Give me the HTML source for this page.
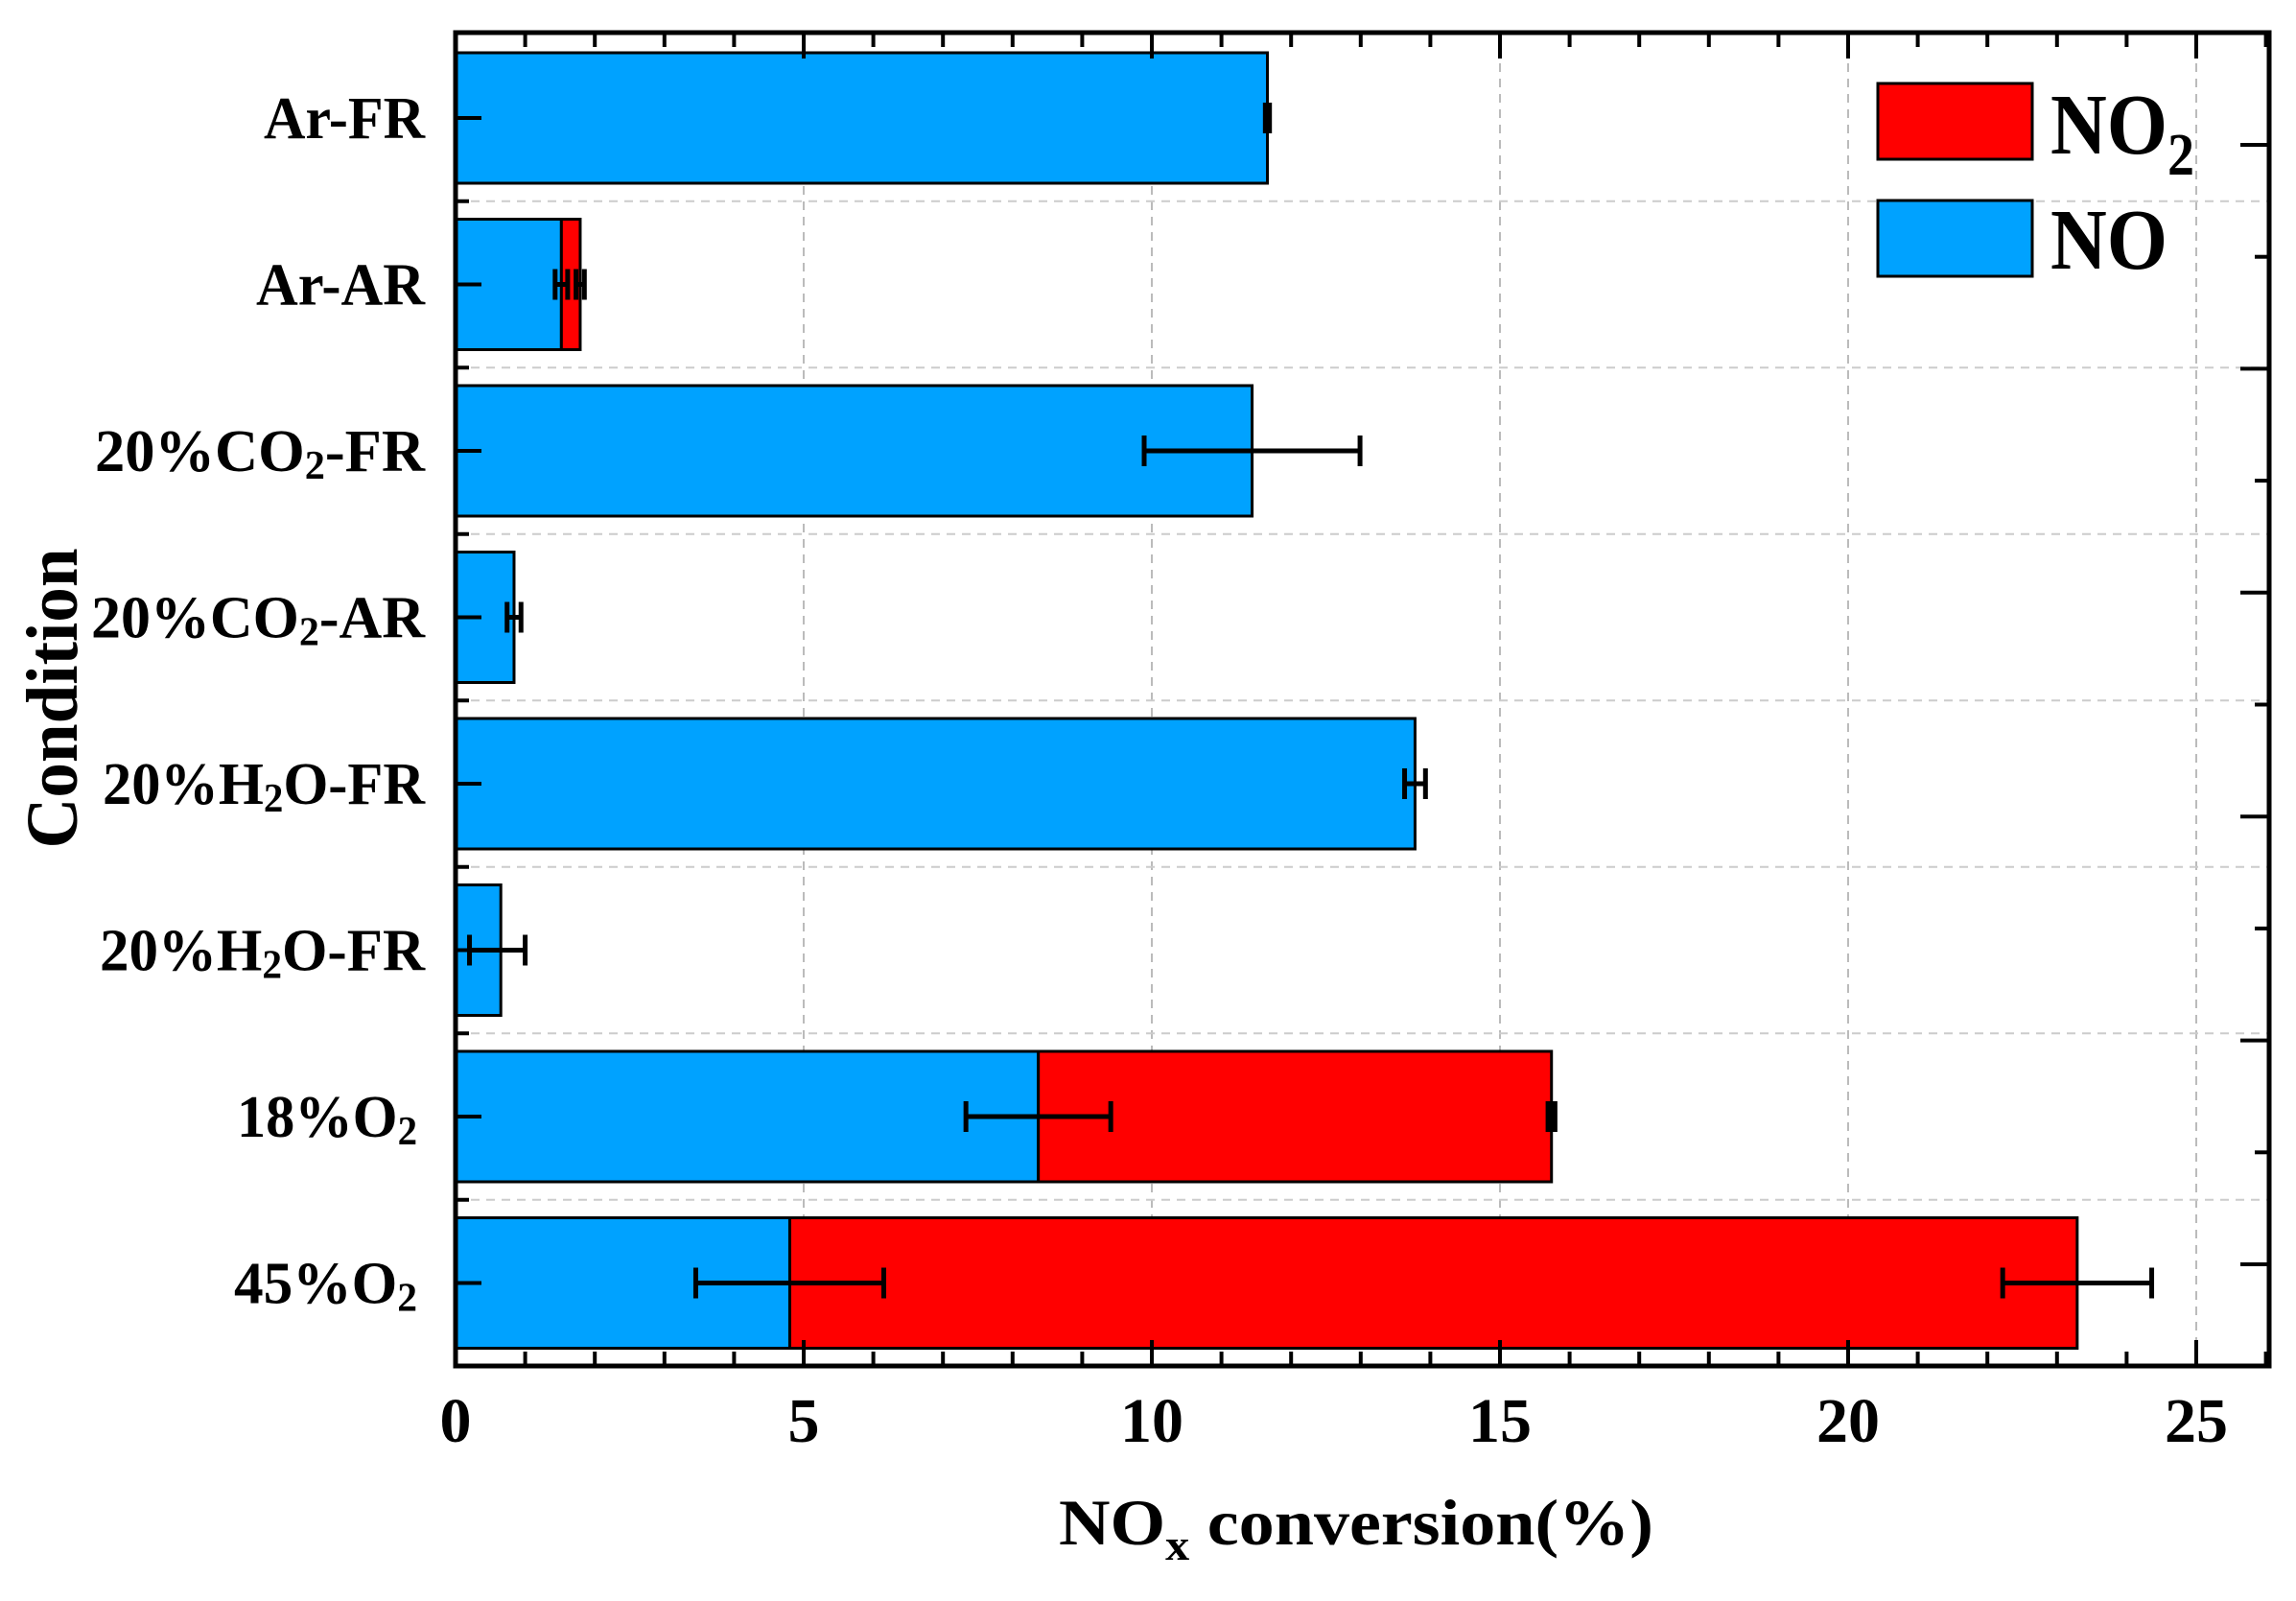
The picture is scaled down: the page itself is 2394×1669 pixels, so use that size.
<!DOCTYPE html>
<html><head><meta charset="utf-8"><style>
html,body{margin:0;padding:0;background:#fff;}
svg{display:block;}
text{font-family:"Liberation Serif","Times New Roman",serif;font-weight:bold;}
</style></head><body>
<svg id="chart" width="2394" height="1669" viewBox="0 0 2394 1669" xmlns="http://www.w3.org/2000/svg" font-family="Liberation Serif, serif" font-weight="bold">
<g id="grid"></g>
<g id="bars"></g>
<g id="errs"></g>
<g id="axes"></g>
<g>
  <rect x="1958" y="87" width="161" height="79" fill="#ff0000" stroke="#000" stroke-width="3"/>
  <text x="2138" y="160" font-size="90" textLength="150" lengthAdjust="spacingAndGlyphs">NO<tspan font-size="62" dy="22">2</tspan></text>
  <rect x="1958" y="209" width="161" height="79" fill="#00a2ff" stroke="#000" stroke-width="3"/>
  <text x="2138" y="280" font-size="90" textLength="122" lengthAdjust="spacingAndGlyphs">NO</text>
</g>
<text x="1104" y="1610" font-size="68" textLength="620" lengthAdjust="spacingAndGlyphs">NO<tspan font-size="46" dy="16">x</tspan><tspan dy="-16"> conversion(%)</tspan></text>
<text transform="translate(80,728) rotate(-90)" text-anchor="middle" font-size="76" textLength="313" lengthAdjust="spacingAndGlyphs">Condition</text>
</svg>
<script>
const categories = ["Ar-FR","Ar-AR","20%CO2-FR","20%CO2-AR","20%H2O-FR","20%H2O-FR","18%O2","45%O2"];
const noValues = [11.66, 1.52, 11.44, 0.84, 13.78, 0.65, 8.37, 4.8];
const no2Values = [0, 0.27, 0, 0, 0, 0, 7.37, 18.49];
const noErrCenter = [11.66, 1.52, 11.44, 0.84, 13.78, 0.6, 8.37, 4.8];
const noErr = [0.03, 0.09, 1.55, 0.1, 0.15, 0.4, 1.04, 1.35];
const totalErr = [0, 0.06, 0, 0, 0, 0, 0.05, 1.07];
const xTicks = [0, 5, 10, 15, 20, 25];
const labelWidths = [168, 176, 344, 348, 336, 339, 188, 191];

const NS = "http://www.w3.org/2000/svg";
const X0 = 475, XR = 2366, YT = 34, YB = 1424, PXU = 72.6;
const xs = v => X0 + v * PXU;
const yc = i => 123 + i * 173.5;
const BH = 136;
function mk(tag, attrs, parent) {
  const e = document.createElementNS(NS, tag);
  for (const k in attrs) e.setAttribute(k, attrs[k]);
  parent.appendChild(e);
  return e;
}
const grid = document.getElementById('grid');
const bars = document.getElementById('bars');
const errs = document.getElementById('errs');
const axes = document.getElementById('axes');

for (let v = 5; v <= 25; v += 5) {
  const l = mk('line', {x1: xs(v), x2: xs(v), y1: YT, y2: YB, stroke: '#bbb', 'stroke-width': 2, 'stroke-dasharray': '9,7'}, grid);
  
  
}
for (let i = 0; i < categories.length - 1; i++) {
  const y = (yc(i) + yc(i + 1)) / 2;
  const l = mk('line', {x1: X0, x2: XR, y1: y, y2: y, stroke: '#ccc', 'stroke-width': 2, 'stroke-dasharray': '9,7'}, grid);
  
  
}

categories.forEach((c, i) => {
  const y = yc(i) - BH / 2;
  const b = mk('rect', {x: xs(0), y: y, width: xs(noValues[i]) - xs(0), height: BH, fill: '#00a2ff', stroke: '#000', 'stroke-width': 3}, bars);
  
  
  if (no2Values[i] > 0) {
    const r = mk('rect', {x: xs(noValues[i]), y: y, width: xs(noValues[i] + no2Values[i]) - xs(noValues[i]), height: BH, fill: '#ff0000', stroke: '#000', 'stroke-width': 3}, bars);
    
    
  }
});

function errbar(center, e, y) {
  const g = mk('g', {}, errs);
  
  
  const a = xs(center - e), b = xs(center + e);
  mk('line', {x1: a, x2: b, y1: y, y2: y, stroke: '#000', 'stroke-width': 5}, g);
  mk('line', {x1: a, x2: a, y1: y - 16, y2: y + 16, stroke: '#000', 'stroke-width': 5}, g);
  mk('line', {x1: b, x2: b, y1: y - 16, y2: y + 16, stroke: '#000', 'stroke-width': 5}, g);
}
categories.forEach((c, i) => {
  errbar(noErrCenter[i], Math.max(noErr[i], 0.03), yc(i));
  if (no2Values[i] > 0) errbar(noValues[i] + no2Values[i], Math.max(totalErr[i], 0.03), yc(i));
});

const frame = mk('rect', {x: X0, y: YT, width: XR - X0, height: YB - YT, fill: 'none', stroke: '#000', 'stroke-width': 5}, axes);



for (let v = 0; v <= 26; v++) {
  const len = v % 5 === 0 ? 27 : 15;
  mk('line', {x1: xs(v), x2: xs(v), y1: YB, y2: YB - len, stroke: '#000', 'stroke-width': 4}, axes);
  mk('line', {x1: xs(v), x2: xs(v), y1: YT, y2: YT + len, stroke: '#000', 'stroke-width': 4}, axes);
}
xTicks.forEach(v => {
  const t = mk('text', {x: xs(v), y: 1503, 'font-size': 66, 'text-anchor': 'middle'}, axes);
  
  
  t.textContent = v;
});

categories.forEach((c, i) => {
  mk('line', {x1: X0, x2: X0 + 27, y1: yc(i), y2: yc(i), stroke: '#000', 'stroke-width': 4}, axes);
  if (i < categories.length - 1) {
    const y = (yc(i) + yc(i + 1)) / 2;
    mk('line', {x1: X0, x2: X0 + 14, y1: y, y2: y, stroke: '#000', 'stroke-width': 4}, axes);
  }
  const w = labelWidths[i];
  const right = i >= 6 ? 435 : 443;
  const t = mk('text', {x: right - w, y: yc(i) + 21, 'font-size': 62, textLength: w, lengthAdjust: 'spacingAndGlyphs'}, axes);
  
  
  const m = c.match(/^(.*?)(CO|H|O)(2)(.*)$/);
  if (m) {
    t.appendChild(document.createTextNode(m[1] + m[2]));
    const s = mk('tspan', {'font-size': 42, dy: 8}, t);
    s.textContent = m[3];
    const r = mk('tspan', {dy: -8}, t);
    r.textContent = m[4];
  } else {
    t.textContent = c;
  }
});

for (let k = 0; k < 12; k++) {
  const y = 151 + k * 116.7;
  if (y > YB - 10) break;
  const len = k % 2 === 0 ? 30 : 15;
  mk('line', {x1: XR, x2: XR - len, y1: y, y2: y, stroke: '#000', 'stroke-width': 4}, axes);
}
</script>
</body></html>
